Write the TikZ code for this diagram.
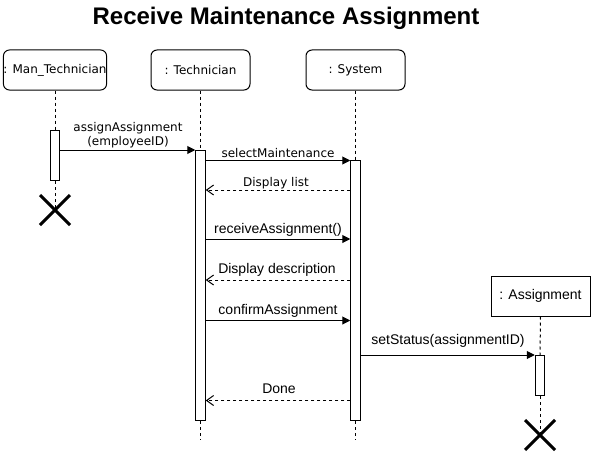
\documentclass[tikz,border=0pt]{standalone}
\usepackage{fontspec}
\setmainfont{Liberation Sans}
\newfontfamily\dvs{DejaVu Sans}
\usetikzlibrary{arrows.meta,calc}
\tikzset{
  every path/.style={line width=1pt},
  lifebox/.style={draw, line width=1pt, rounded corners=6pt, minimum width=99pt, minimum height=40pt, inner sep=0pt, font=\dvs\fontsize{12}{14}\selectfont},
  objbox/.style={draw, line width=1pt, minimum width=99pt, minimum height=40pt, inner sep=0pt, font=\fontsize{14}{16}\selectfont},
  actbar/.style={draw, line width=1pt, fill=white, minimum width=9.5pt, inner sep=0pt},
  lifeline/.style={line width=1pt, dash pattern=on 3pt off 3pt},
  msg/.style={line width=1pt, -{Triangle[length=8pt,width=8pt]}},
  reply/.style={line width=1pt, dash pattern=on 3pt off 3pt, -{Straight Barb[length=7pt,width=10pt]}},
  lbl/.style={inner sep=0pt, font=\fontsize{14}{16}\selectfont},
  lbld/.style={inner sep=0pt, font=\dvs\fontsize{12}{14.5}\selectfont},
  killx/.style={line width=3pt}
}
\begin{document}
\begin{tikzpicture}[x=1pt,y=-1pt]
\useasboundingbox (0,0) rectangle (591,452);
% title
\node[font=\bfseries\fontsize{24}{28}\selectfont] (title) at (286,18) {Receive Maintenance Assignment};
% lifeline heads
\node[lifebox] (mt) at (55,70) {: Man\_Technician};
\node[lifebox] (tc) at (200.5,70) {: Technician};
\node[lifebox] (sy) at (355.5,70) {: System};
\node[objbox] (as) at (540.5,296) {: Assignment};
% activation bars
\node[actbar, minimum height=50pt, anchor=north] (amt) at (55,130) {};
\node[actbar, minimum height=270pt, anchor=north] (atc) at (200.5,150) {};
\node[actbar, minimum height=260pt, anchor=north] (asy) at (355.5,160) {};
\node[actbar, minimum height=40pt, anchor=north] (aas) at (540,355) {};
% end coordinates
\coordinate (xmt) at (55,210);
\coordinate (xas) at (540,435);
\coordinate (etc) at (200.5,440);
\coordinate (esy) at (355.5,440);
% lifelines
\draw[lifeline] (mt.south) -- (amt.north);
\draw[lifeline] (amt.south) -- (xmt);
\draw[lifeline] (tc.south) -- (atc.north);
\draw[lifeline] (atc.south) -- (etc);
\draw[lifeline] (sy.south) -- (asy.north);
\draw[lifeline] (asy.south) -- (esy);
\draw[lifeline] (as.south) -- (aas.north);
\draw[lifeline] (aas.south) -- (xas);
% redraw bars on top
\node[actbar, minimum height=50pt, anchor=north] at (55,130) {};
\node[actbar, minimum height=270pt, anchor=north] at (200.5,150) {};
\node[actbar, minimum height=260pt, anchor=north] at (355.5,160) {};
\node[actbar, minimum height=40pt, anchor=north] at (540,355) {};
% destruction marks
\draw[killx] ($(xmt)+(-15,-15)$) -- ($(xmt)+(15,15)$) ($(xmt)+(15,-15)$) -- ($(xmt)+(-15,15)$);
\draw[killx] ($(xas)+(-15,-15)$) -- ($(xas)+(15,15)$) ($(xas)+(15,-15)$) -- ($(xas)+(-15,15)$);
% messages
\draw[msg] (amt.east |- 0,150) -- (atc.west |- 0,150);
\node[lbld, align=center] (l1) at (128,135) {assignAssignment\\(employeeID)};
\draw[msg] (atc.east |- 0,160.5) -- (asy.west |- 0,160.5);
\node[lbld] (l2) at (278,153) {selectMaintenance};
\draw[reply] (asy.west |- 0,190) -- (atc.east |- 0,190);
\node[lbld] (l3) at (276,183) {Display list};
\draw[msg] (atc.east |- 0,239) -- (asy.west |- 0,239);
\node[lbl] (l4) at (278,230) {receiveAssignment()};
\draw[reply] (asy.west |- 0,280) -- (atc.east |- 0,280);
\node[lbl] (l5) at (277,270) {Display description};
\draw[msg] (atc.east |- 0,320.5) -- (asy.west |- 0,320.5);
\node[lbl] (l6) at (278,311) {confirmAssignment};
\draw[msg] (asy.east |- 0,355) -- (aas.west |- 0,355);
\node[lbl] (l7) at (448,341) {setStatus(assignmentID)};
\draw[reply] (asy.west |- 0,400.5) -- (atc.east |- 0,400.5);
\node[lbl] (l8) at (279,389) {Done};
\end{tikzpicture}
\end{document}
